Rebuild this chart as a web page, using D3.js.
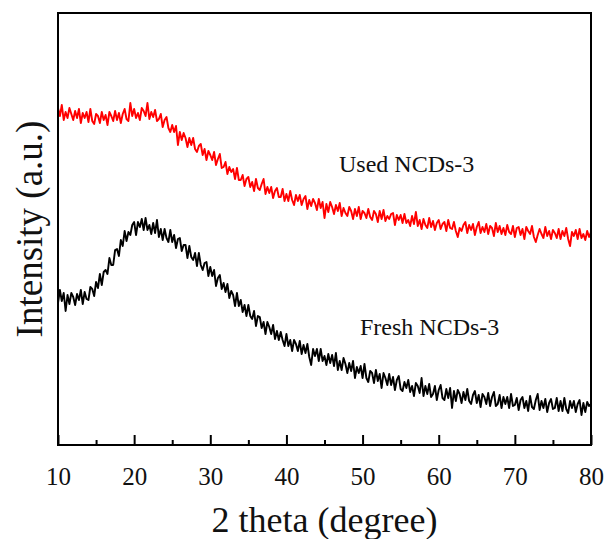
<!DOCTYPE html>
<html>
<head>
<meta charset="utf-8">
<script src="https://cdn.jsdelivr.net/npm/d3@7"></script>
<style>
  html, body { margin: 0; padding: 0; background: #fff; }
  svg { display: block; }
  text { font-family: "Liberation Serif", "Times New Roman", serif; fill: #111; }
</style>
</head>
<body>
<svg id="chart" width="609" height="539"></svg>
<script>
// XRD scan: 10–80° 2θ, step 0.25°
const scanStart = 10;
const scanStep = 0.25;

const xTicks = [10, 20, 30, 40, 50, 60, 70, 80];
const xMinorTicks = [15, 25, 35, 45, 55, 65, 75];

const seriesNames = ["Used NCDs-3", "Fresh NCDs-3"];

// Intensity (a.u.), used sample — 8 values per 2°
const usedIntensity = [
  337,329,340,325, 333,327,337,331,
  325,334,327,336, 322,332,327,333,
  323,336,324,321, 331,329,322,333,
  325,330,320,333, 329,324,334,325,
  332,322,331,336, 326,324,342,329,
  336,327,332,325, 337,334,329,342,
  326,333,328,335, 324,326,331,318,
  325,328,317,313, 320,313,319,300,
  313,305,312,307, 298,307,300,307,
  296,293,299,301, 290,296,285,294,
  290,285,293,280, 286,291,277,278,
  283,271,278,273, 276,266,277,265,
  265,270,259,266, 268,258,263,254,
  266,257,255,261, 266,251,258,252,
  258,247,254,257, 248,248,256,244,
  251,244,254,245, 240,250,244,250,
  240,246,249,236, 245,239,246,242,
  235,246,237,243, 227,241,233,243,
  238,231,240,234, 242,229,237,232,
  229,238,234,226, 236,229,238,226,
  234,232,227,236, 228,225,234,231,
  223,234,226,235, 224,229,226,231,
  232,220,230,225, 230,222,231,222,
  225,219,229,221, 233,219,225,216,
  226,220,217,227, 218,224,215,222,
  225,216,221,223, 214,225,217,216,
  223,214,208,217, 214,220,223,212,
  220,215,221,210, 218,223,212,218,
  213,221,211,219, 217,209,222,213,
  219,211,217,210, 220,213,211,219,
  208,217,218,210, 216,206,218,214,
  211,219,208,203, 210,216,211,207,
  218,209,214,206, 215,212,207,216,
  206,214,209,217, 206,199,213,209,
  215,206,216,207, 211,205,214,208,
  213
];

// Intensity (a.u.), fresh sample — 8 values per 2°
const freshIntensity = [
  142,155,144,152, 134,150,141,152,
  148,140,151,145, 155,141,153,146,
  145,158,156,149, 163,157,171,160,
  173,175,171,187, 180,180,195,196,
  189,205,199,214, 204,213,210,220,
  223,210,223,218, 226,215,227,215,
  220,211,222,212, 225,208,216,205,
  216,207,203,215, 203,210,197,206,
  207,194,200,200, 187,199,188,185,
  192,179,192,180, 175,182,183,169,
  178,169,175,159, 167,170,156,162,
  153,161,147,154, 150,139,152,139,
  145,133,140,129, 140,129,126,134,
  119,129,128,117, 123,111,123,118,
  111,120,106,114, 105,113,105,99,
  111,99,105,94, 105,101,94,104,
  91,100,92,101, 88,80,96,89,
  96,84,96,84, 89,80,91,82,
  90,79,92,75, 84,75,87,81,
  72,82,74,84, 67,78,72,79,
  67,81,67,63, 74,72,62,75,
  64,71,57,72, 67,60,71,60,
  68,55,65,69, 56,54,63,57,
  65,53,59,49, 62,59,52,67,
  49,59,51,61, 48,51,59,45,
  55,60,47,45, 56,47,57,37,
  54,44,55,51, 42,53,45,56,
  44,41,50,54, 42,50,38,51,
  48,41,52,39, 48,53,39,41,
  50,37,48,41, 48,37,51,39,
  40,47,35,45, 48,37,44,34,
  49,38,36,45, 51,35,44,37,
  46,33,42,46, 36,37,47,34,
  44,34,47,36, 32,44,37,44,
  33,41,45,30, 42,33,43,39,
  41
];

const seriesColors = ["#ff0000", "#000000"];

const svg = d3.select("#chart");
const plot = { left: 58, right: 591, top: 13, bottom: 445 };

const x = d3.scaleLinear().domain([10, 80]).range([plot.left, plot.right]);
const y = d3.scaleLinear().domain([0, 432]).range([plot.bottom, plot.top]);

const toPoints = arr => arr.map((v, i) => [scanStart + i * scanStep, v]);

const line = d3.line()
  .x(d => x(d[0]))
  .y(d => y(d[1]));

// diffraction patterns
[usedIntensity, freshIntensity].forEach((arr, k) => {
  svg.append("path")
    .datum(toPoints(arr))
    .attr("fill", "none")
    .attr("stroke", seriesColors[k])
    .attr("stroke-width", 1.9)
    .attr("stroke-linejoin", "round")
    .attr("d", line);
});

// frame
svg.append("rect")
  .attr("x", plot.left).attr("y", plot.top)
  .attr("width", plot.right - plot.left)
  .attr("height", plot.bottom - plot.top)
  .attr("fill", "none")
  .attr("stroke", "#000")
  .attr("stroke-width", 2);

// bottom axis, ticks pointing inward
const xAxis = d3.axisBottom(x)
  .tickValues(xTicks)
  .tickSize(-10)
  .tickPadding(22)
  .tickFormat(d3.format("d"));

const gx = svg.append("g")
  .attr("transform", `translate(0,${plot.bottom})`)
  .call(xAxis);
gx.select(".domain").remove();
gx.selectAll(".tick line").attr("stroke", "#000").attr("stroke-width", 2);
gx.selectAll(".tick text")
  .attr("font-family", "Liberation Serif, serif")
  .attr("font-size", 25)
  .attr("fill", "#111");

const gMinor = svg.append("g")
  .attr("transform", `translate(0,${plot.bottom})`)
  .call(d3.axisBottom(x).tickValues(xMinorTicks).tickSize(-5).tickFormat(""));
gMinor.select(".domain").remove();
gMinor.selectAll(".tick line").attr("stroke", "#000").attr("stroke-width", 2);

// axis titles
svg.append("text")
  .attr("x", (plot.left + plot.right) / 2)
  .attr("y", 532)
  .attr("text-anchor", "middle")
  .attr("font-size", 36)
  .text("2 theta (degree)");

svg.append("text")
  .attr("transform", `translate(42,${(plot.top + plot.bottom) / 2}) rotate(-90)`)
  .attr("text-anchor", "middle")
  .attr("font-size", 37)
  .text("Intensity (a.u.)");

// series labels
svg.append("text").attr("x", 339).attr("y", 172).attr("font-size", 24).text(seriesNames[0]);
svg.append("text").attr("x", 360).attr("y", 335).attr("font-size", 24).text(seriesNames[1]);
</script>
</body>
</html>
